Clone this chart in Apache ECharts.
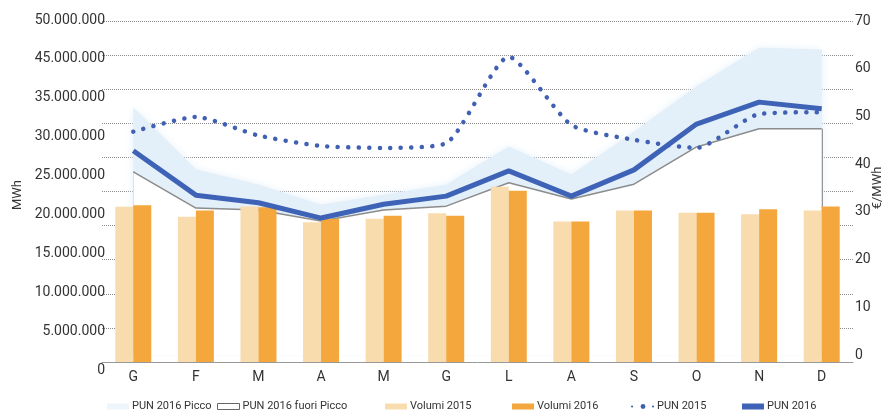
<!DOCTYPE html>
<html>
<head>
<meta charset="utf-8">
<script src="https://cdn.jsdelivr.net/npm/echarts@6/dist/echarts.min.js"></script>
<style>
  html, body { margin: 0; padding: 0; background: #fff; }
  #chart { width: 884px; height: 412px; }
</style>
</head>
<body>
<div id="chart"></div>
<script>
const months = ["G", "F", "M", "A", "M", "G", "L", "A", "S", "O", "N", "D"];

// MWh
const volumi2015 = [22770000, 21300000, 22800000, 20500000, 21000000, 21800000, 25700000, 20600000, 22200000, 21900000, 21650000, 22200000];
const volumi2016 = [23000000, 22200000, 22700000, 21000000, 21450000, 21450000, 25100000, 20600000, 22200000, 21900000, 22400000, 22800000];

// €/MWh
const pun2015 = [46.8, 49.9, 46.0, 43.8, 43.4, 44.4, 62.5, 48.2, 45.1, 43.4, 50.5, 50.9];
const pun2016 = [42.8, 33.5, 31.9, 28.7, 31.6, 33.3, 38.6, 33.3, 38.8, 48.4, 53.0, 51.6];
const pun2016Picco = [51.8, 38.8, 35.6, 31.4, 33.5, 35.6, 43.6, 37.7, 46.7, 56.2, 64.3, 63.9];
const pun2016FuoriPicco = [38.4, 30.8, 30.4, 28.1, 30.4, 31.2, 36.1, 32.7, 35.8, 43.6, 47.4, 47.4];

// left tick labels as printed
const mwhTicks = ["0", "5.000.000", "10.000.000", "15.000.000", "20.000.000", "25.000.000", "30.000.000", "35.000.000", "45.000.000", "50.000.000"];

const font = "Roboto, 'DejaVu Sans', sans-serif";
const textColor = "#333";

const myChart = echarts.init(document.getElementById("chart"));

const legendItem = (name, left, icon, itemStyle) => ({
  left: left,
  top: 396,
  itemWidth: 22,
  itemHeight: 6,
  itemGap: 4,
  textStyle: { fontFamily: font, fontSize: 11, color: textColor, padding: [0, 0, 0, -2] },
  data: [icon ? { name: name, icon: icon, itemStyle: itemStyle } : { name: name }],
});

const options = {
  animation: false,
  backgroundColor: "#fff",
  legend: [
    legendItem("PUN 2016 Picco", 102, "rect", { color: "#eef5fb", borderWidth: 0 }),
    legendItem("PUN 2016 fuori Picco", 212, "rect", { color: "#fff", borderColor: "#666", borderWidth: 1 }),
    legendItem("Volumi 2015", 380, "rect", { color: "#f8dcae" }),
    legendItem("Volumi 2016", 507, "rect", { color: "#f3a73c" }),
    legendItem("PUN 2015", 626, null),
    legendItem("PUN 2016", 737, "rect", { color: "#3e63b6" }),
  ],
  grid: [
    { left: 102, right: 31, top: 21, bottom: 50, outerBoundsMode: "none" },
    { left: 102, right: 31, top: 21, bottom: 57, outerBoundsMode: "none" },
    { left: 110, right: 31, top: 20, bottom: 42, outerBoundsMode: "none" },
  ],
  xAxis: [
    {
      gridIndex: 0,
      type: "category",
      data: months,
      axisLine: { lineStyle: { color: "#999", width: 1 } },
      axisTick: { show: false },
      axisLabel: { color: textColor, fontFamily: font, fontSize: 14, margin: 8 },
    },
    { gridIndex: 1, type: "category", data: months, show: false },
    { gridIndex: 2, type: "category", data: months, show: false },
  ],
  yAxis: [
    {
      gridIndex: 0,
      type: "value",
      min: 0,
      max: 50000000,
      interval: 5000000,
      axisLine: { show: false },
      axisTick: { show: false },
      axisLabel: { show: false },
      splitLine: { lineStyle: { color: "#8a8a8a", type: "dotted", width: 1 } },
    },
    {
      gridIndex: 1,
      type: "value",
      position: "right",
      min: 0,
      max: 70,
      interval: 10,
      name: "€/MWh",
      nameLocation: "middle",
      nameRotate: 90,
      nameGap: 18,
      nameMoveOverlap: false,
      nameTextStyle: { color: textColor, fontFamily: font, fontSize: 13 },
      axisLine: { show: false },
      axisTick: { show: false },
      splitLine: { show: false },
      axisLabel: { color: textColor, fontFamily: font, fontSize: 14, margin: 2 },
    },
    {
      gridIndex: 2,
      type: "value",
      position: "left",
      min: 0,
      max: 45000000,
      interval: 5000000,
      name: "MWh",
      nameLocation: "middle",
      nameRotate: 90,
      nameGap: 86,
      nameMoveOverlap: false,
      nameTextStyle: { color: textColor, fontFamily: font, fontSize: 13 },
      axisLine: { show: false },
      axisTick: { show: false },
      splitLine: { show: false },
      axisLabel: {
        color: textColor,
        fontFamily: font,
        fontSize: 14,
        margin: 5,
        formatter: (v) => mwhTicks[Math.round(v / 5000000)],
      },
    },
  ],
  series: [
    {
      name: "PUN 2016 Picco",
      type: "line",
      xAxisIndex: 1,
      yAxisIndex: 1,
      data: pun2016Picco,
      symbol: "none",
      z: 1,
      lineStyle: { color: "#e3eff9", width: 1 },
      itemStyle: { color: "#eef5fb" },
      areaStyle: { color: "#e3eff9", opacity: 1, shadowBlur: 10, shadowColor: "#e6f1fa" },
    },
    {
      name: "PUN 2016 fuori Picco",
      type: "line",
      xAxisIndex: 1,
      yAxisIndex: 1,
      data: pun2016FuoriPicco,
      symbol: "none",
      z: 2,
      lineStyle: { color: "#8c8c8c", width: 1.5 },
      itemStyle: { color: "#fff" },
      areaStyle: { color: "#fff", opacity: 1 },
      markLine: {
        silent: true,
        z: 2,
        symbol: "none",
        label: { show: false },
        lineStyle: { color: "#777", width: 1.5, type: "solid" },
        data: [
          [{ coord: [0, 0] }, { coord: [0, pun2016FuoriPicco[0]] }],
          [{ coord: [months.length - 1, 0] }, { coord: [months.length - 1, pun2016FuoriPicco[months.length - 1]] }],
        ],
      },
    },
    {
      name: "Volumi 2015",
      type: "bar",
      xAxisIndex: 0,
      yAxisIndex: 0,
      data: volumi2015,
      barWidth: 18,
      barGap: "0%",
      z: 3,
      itemStyle: { color: "#f8dcae" },
    },
    {
      name: "Volumi 2016",
      type: "bar",
      xAxisIndex: 0,
      yAxisIndex: 0,
      data: volumi2016,
      barWidth: 18,
      barGap: "0%",
      z: 3,
      itemStyle: { color: "#f3a73c" },
    },
    {
      name: "PUN 2015",
      type: "line",
      xAxisIndex: 1,
      yAxisIndex: 1,
      data: pun2015,
      symbol: "none",
      smooth: 0.2,
      z: 4,
      itemStyle: { color: "#4060b4" },
      lineStyle: { color: "#4060b4", width: 4.5, type: [0.1, 10.4], cap: "round" },
    },
    {
      name: "PUN 2016",
      type: "line",
      xAxisIndex: 1,
      yAxisIndex: 1,
      data: pun2016,
      symbol: "none",
      z: 5,
      itemStyle: { color: "#3e63b6" },
      lineStyle: { color: "#3e63b6", width: 5 },
    },
  ],
};

myChart.setOption(options);
</script>
</body>
</html>
